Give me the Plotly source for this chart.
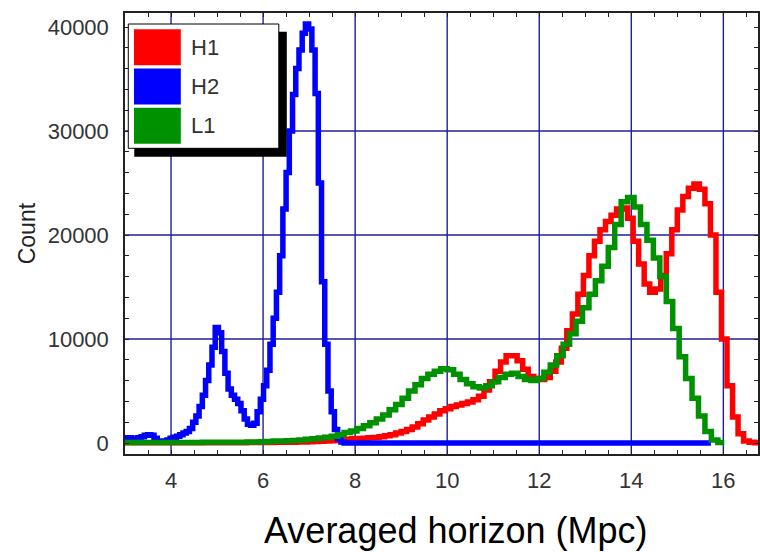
import plotly.graph_objects as go

# ---------------- data ----------------
series_names = ["H1", "H2", "L1"]
series_colors = ["#ff0000", "#0000ff", "#009100"]

# H1 histogram (bin start, bin width, counts)
h1_start, h1_width = 3.0, 0.12
h1_counts = [30, 30, 30, 30, 30, 30, 30, 30, 30, 30,
             30, 30, 30, 30, 30, 30, 30, 30, 30, 30,
             30, 30, 40, 40, 40, 50, 50, 60, 60, 70,
             80, 90, 100, 120, 140, 160, 190, 220, 260, 300,
             350, 400, 430, 460, 500, 540, 600, 700, 800, 950,
             1100, 1300, 1550, 1850, 2200, 2500, 2800, 3100, 3300, 3500,
             3650, 3800, 3950, 4150, 4500, 5100, 5900, 6900, 7800, 8400,
             8400, 7900, 7100, 6400, 6200, 6100, 6300, 6900, 7800, 9100,
             10800, 12400, 14300, 16100, 18000, 19400, 20500, 21300, 21900, 22500,
             22600, 21600, 19400, 17200, 15300, 14500, 14800, 16100, 18200, 20500,
             22400, 23700, 24500, 24900, 24400, 23000, 20000, 14500, 10000, 5500,
             2500, 900, 200, 60, 30]

# H2 histogram
h2_start, h2_width = 3.0, 0.07
h2_counts = [500, 500, 450, 450, 500, 600, 750, 800, 750, 450,
             200, 150, 200, 300, 450, 550, 650, 800, 950, 1100,
             1400, 2000, 2600, 3500, 4600, 6000, 7500, 9200, 11100, 10600,
             8800, 6700, 5200, 4600, 4200, 3800, 3100, 2300, 1800, 1700,
             1900, 3000, 4200, 5500, 7000, 9500, 12000, 14500, 18000, 22500,
             26000, 30000, 33500, 36000, 37800, 39400, 40300, 39800, 37800, 33600,
             25000, 15500, 9500, 5000, 3000, 1300, 400, 100, 0]
h2_tail_end = 15.73  # zero counts continue up to here

# L1 histogram
l1_start, l1_width = 3.0, 0.14
l1_counts = [50, 50, 50, 50, 50, 50, 50, 50, 50, 50,
             50, 50, 60, 60, 60, 70, 70, 80, 80, 90,
             100, 120, 150, 180, 200, 220, 250, 300, 350, 420,
             480, 550, 650, 800, 1000, 1150, 1400, 1650, 1950, 2300,
             2700, 3200, 3700, 4300, 5000, 5600, 6200, 6600, 6900, 7150,
             7050, 6600, 6100, 5700, 5400, 5300, 5500, 5900, 6300, 6600,
             6700, 6400, 6100, 6000, 6200, 6800, 7500, 8400, 9500, 10500,
             11700, 13000, 14300, 15600, 17000, 18800, 21000, 23200, 23600, 22700,
             21000, 19500, 17800, 16000, 13600, 11000, 8300, 6200, 4300, 2600,
             1100, 300, 50]

x_tick_values = [4, 6, 8, 10, 12, 14, 16]
y_tick_values = [0, 10000, 20000, 30000, 40000]
y_grid_values = [10000, 20000, 30000]
x_range = [3.0, 16.753]
y_range = [-1058, 41346]

x_title = "Averaged horizon (Mpc)"
y_title = "Count"

# ---------------- layout geometry ----------------
W, H = 760, 552
L, R, T, B = 125, 0, 13, 98
PW, PH = W - L - R, H - T - B


def px_x(px):
    return (px - L) / PW


def px_y(py):
    return (H - B - py) / PH


def step_xy(start, width, counts, tail_end=None):
    xs = [start + width * i for i in range(len(counts))]
    ys = list(counts)
    xs.append(tail_end if tail_end is not None else start + width * len(counts))
    ys.append(counts[-1])
    return xs, ys


fig = go.Figure()
data_sets = [
    step_xy(h1_start, h1_width, h1_counts),
    step_xy(h2_start, h2_width, h2_counts, h2_tail_end),
    step_xy(l1_start, l1_width, l1_counts),
]
for (xs, ys), name, color in zip(data_sets, series_names, series_colors):
    fig.add_trace(go.Scatter(x=xs, y=ys, name=name, mode="lines",
                             line=dict(color=color, width=5.5, shape="hv"),
                             showlegend=False))

grid_color = "#1e1ea0"
axis_color = "#222222"
font_family = "Liberation Sans, Arial, sans-serif"
tick_font = dict(family=font_family, size=22, color="#333333")

fig.update_layout(
    width=W, height=H,
    margin=dict(l=L, r=R, t=T, b=B, pad=0),
    paper_bgcolor="white", plot_bgcolor="white",
    showlegend=False,
    xaxis=dict(range=x_range, tickvals=x_tick_values, ticks="inside", ticklen=4,
               tickcolor=axis_color, showline=True, linecolor=axis_color, linewidth=1.5,
               mirror="ticks", showgrid=False,
               zeroline=False, tickfont=tick_font, ticklabelstandoff=6,
               minor=dict(dtick=0.5, tick0=3, ticks="inside", ticklen=4,
                          tickcolor=axis_color, showgrid=False)),
    yaxis=dict(range=y_range, tickvals=y_tick_values, tickformat="d",
               ticks="inside", ticklen=4,
               tickcolor=axis_color, showline=True, linecolor=axis_color, linewidth=1.5,
               mirror="ticks", showgrid=False, zeroline=False, tickfont=tick_font,
               ticklabelstandoff=10,
               minor=dict(dtick=2000, tick0=0, ticks="inside", ticklen=4,
                          tickcolor=axis_color, showgrid=False)),
)

shapes = []
for gv in y_grid_values:
    shapes.append(dict(type="line", xref="paper", yref="y", x0=0, x1=1, y0=gv, y1=gv,
                       line=dict(color=grid_color, width=1.4), layer="below"))
for gv in x_tick_values:
    shapes.append(dict(type="line", xref="x", yref="paper", x0=gv, x1=gv, y0=0, y1=1,
                       line=dict(color=grid_color, width=1.4), layer="below"))

# legend box with drop shadow
shapes.append(dict(type="rect", xref="paper", yref="paper",
                   x0=px_x(134.3), x1=px_x(287.3), y0=px_y(156.7), y1=px_y(31.7),
                   fillcolor="black", line=dict(width=0), layer="above"))
shapes.append(dict(type="rect", xref="paper", yref="paper",
                   x0=px_x(128.3), x1=px_x(279.3), y0=px_y(148.3), y1=px_y(24),
                   fillcolor="white", line=dict(color="black", width=1), layer="above"))

annotations = []
item_top, item_h, item_gap = 29.3, 36, 3.2
for i, (name, color) in enumerate(zip(series_names, series_colors)):
    top = item_top + i * (item_h + item_gap)
    shapes.append(dict(type="rect", xref="paper", yref="paper",
                       x0=px_x(134), x1=px_x(181), y0=px_y(top + item_h), y1=px_y(top),
                       fillcolor=color, line=dict(width=0), layer="above"))
    annotations.append(dict(text=name, xref="paper", yref="paper",
                            x=px_x(189), y=px_y(top + item_h / 2),
                            xanchor="left", yanchor="middle", showarrow=False,
                            font=dict(family=font_family, size=22, color="#333333")))

annotations.append(dict(text=x_title, xref="paper", yref="paper",
                        x=px_x(457), y=px_y(530), xanchor="center", yanchor="middle",
                        showarrow=False,
                        font=dict(family=font_family, size=36, color="black")))
annotations.append(dict(text=y_title, xref="paper", yref="paper",
                        x=px_x(27), y=px_y(233), xanchor="center", yanchor="middle",
                        textangle=-90, showarrow=False,
                        font=dict(family=font_family, size=23, color="#222222")))

fig.update_layout(shapes=shapes, annotations=annotations)
fig.write_html("out.html")
